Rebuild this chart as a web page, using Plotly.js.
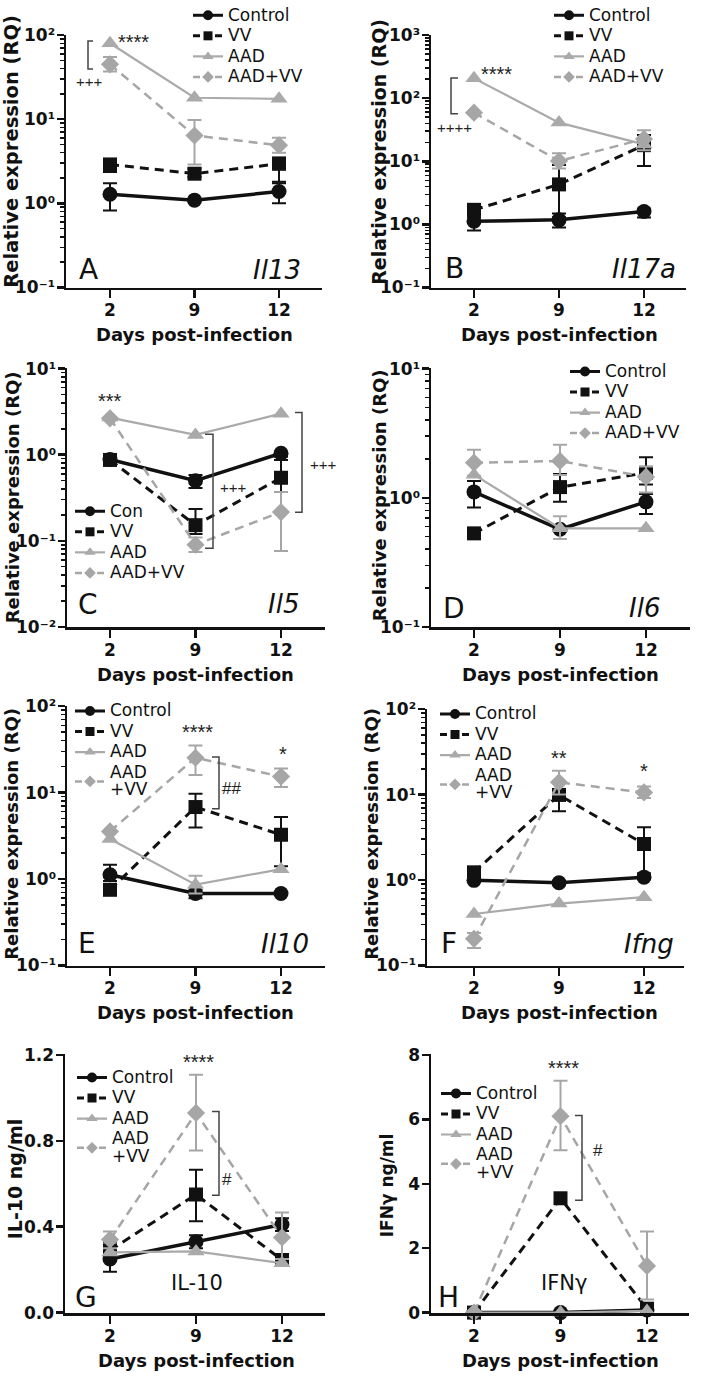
<!DOCTYPE html>
<html><head><meta charset="utf-8">
<script src="https://cdn.plot.ly/plotly-3.0.1.min.js"></script>
<style>html,body{margin:0;padding:0;background:#fff}</style>
</head><body><div id="chart" style="width:702px;height:1377px"></div>
<script>
// ---------- DATA ----------
const days = ['2', '9', '12'];
const groups = ['Control', 'VV', 'AAD', 'AAD+VV'];

// A: Il13 (RQ)
const il13_control = [1.28, 1.09, 1.38], il13_control_up = [1.73, null, 1.73], il13_control_lo = [0.82, null, 1.0];
const il13_vv = [2.9, 2.25, 2.95], il13_vv_up = [3.3, 2.6, 3.5], il13_vv_lo = [2.35, 2.05, 1.8];
const il13_aad = [80, 18, 17.5];
const il13_aadvv = [45, 6.4, 4.9], il13_aadvv_up = [55, 9.8, 6.0], il13_aadvv_lo = [37, 2.9, 4.0];

// B: Il17a (RQ)
const il17a_control = [1.12, 1.18, 1.6], il17a_control_up = [1.3, 1.48, 1.78], il17a_control_lo = [0.8, 0.89, 1.28];
const il17a_vv = [1.7, 4.3, 18], il17a_vv_up = [null, 8.7, 26], il17a_vv_lo = [null, 1.3, 8.4];
const il17a_aad = [206, 41, 18.5];
const il17a_aadvv = [59, 10.1, 22.6], il17a_aadvv_up = [null, 13.4, 31], il17a_aadvv_lo = [null, 7.7, 15];

// C: Il5 (RQ)
const il5_control = [0.88, 0.5, 1.04], il5_control_up = [null, 0.58, null], il5_control_lo = [null, 0.41, 0.87];
const il5_vv = [0.87, 0.152, 0.54], il5_vv_up = [0.95, 0.235, 0.95], il5_vv_lo = [0.78, 0.12, 0.37];
const il5_aad = [2.7, 1.7, 3.0];
const il5_aadvv = [2.65, 0.09, 0.216], il5_aadvv_up = [null, 0.109, 0.37], il5_aadvv_lo = [null, 0.074, 0.076];

// D: Il6 (RQ)
const il6_control = [1.11, 0.57, 0.93], il6_control_up = [1.35, null, 1.07], il6_control_lo = [0.84, null, 0.75];
const il6_vv = [0.53, 1.21, 1.56], il6_vv_up = [null, 1.53, 2.06], il6_vv_lo = [null, 0.93, 1.27];
const il6_aad = [1.51, 0.58, 0.58], il6_aad_up = [null, 0.72, null], il6_aad_lo = [null, 0.48, null];
const il6_aadvv = [1.87, 1.93, 1.45], il6_aadvv_up = [2.36, 2.58, 1.75], il6_aadvv_lo = [1.48, 1.5, 1.1];

// E: Il10 (RQ)
const il10_control = [1.12, 0.68, 0.68], il10_control_up = [1.46, 0.75, null], il10_control_lo = [0.95, 0.6, null];
const il10_vv = [0.75, 6.8, 3.25], il10_vv_up = [null, 9.7, 5.2], il10_vv_lo = [null, 3.95, 1.4];
const il10_aad = [2.9, 0.86, 1.3], il10_aad_up = [null, 1.09, null], il10_aad_lo = [null, 0.68, null];
const il10_aadvv = [3.55, 25.3, 15.3], il10_aadvv_up = [null, 35, 19], il10_aadvv_lo = [null, 16, 11.6];

// F: Ifng (RQ)
const ifng_control = [0.99, 0.93, 1.08];
const ifng_vv = [1.23, 9.9, 2.64], ifng_vv_up = [null, null, 4.14], ifng_vv_lo = [null, 6.4, 1.2];
const ifng_aad = [0.40, 0.53, 0.63];
const ifng_aadvv = [0.205, 13.9, 10.6], ifng_aadvv_up = [0.24, 19, 12.4], ifng_aadvv_lo = [0.16, 10, 9.1];

// G: IL-10 protein (ng/ml)
const il10p_control = [0.25, 0.33, 0.41], il10p_control_up = [0.29, 0.36, 0.44], il10p_control_lo = [0.19, 0.30, 0.38];
const il10p_vv = [0.29, 0.55, 0.245], il10p_vv_up = [0.33, 0.665, null], il10p_vv_lo = [0.26, 0.425, null];
const il10p_aad = [0.28, 0.285, 0.23];
const il10p_aadvv = [0.34, 0.93, 0.35], il10p_aadvv_up = [0.378, 1.108, 0.466], il10p_aadvv_lo = [0.30, 0.755, 0.25];

// H: IFNγ protein (ng/ml)
const ifngp_control = [0, 0, 0.08];
const ifngp_vv = [0, 3.55, 0.12];
const ifngp_aad = [0, 0, 0.05];
const ifngp_aadvv = [0, 6.1, 1.45], ifngp_aadvv_up = [null, 7.2, 2.52], ifngp_aadvv_lo = [null, 5.04, 0.41];

// ---------- STYLE / LAYOUT ----------
const W = 702, H = 1377;
const px = x => x / W;
const py = y => 1 - y / H;
const styles = [
  {color: '#111111', symbol: 'circle', size: 15, lsize: 10, width: 3.5, dash: 'solid'},
  {color: '#111111', symbol: 'square', size: 14, lsize: 9, width: 3, dash: '9px,6px'},
  {color: '#aaaaaa', symbol: 'triangle-up', size: 15, lsize: 10, width: 2.2, dash: 'solid'},
  {color: '#a6a6a6', symbol: 'diamond', size: 14, lsize: 9, width: 2.5, dash: '9px,6px'}
];
const leg = s => s.split('<br>').map(t => '<span style="font-size:17px">' + t + '</span>').join('<br>');
const namesStd = groups.map(leg);
const namesCon = ['Con', 'VV', 'AAD', 'AAD+VV'].map(leg);
const namesTwo = ['Control', 'VV', 'AAD', 'AAD<br>+VV'].map(leg);
const SUP = {'0': '⁰', '1': '¹', '2': '²', '3': '³', '-': '⁻'};
const pow10Label = k => '10' + String(k).split('').map(c => SUP[c]).join('');

const panels = [
  {series: [[il13_control, il13_control_up, il13_control_lo], [il13_vv, il13_vv_up, il13_vv_lo], [il13_aad], [il13_aadvv, il13_aadvv_up, il13_aadvv_lo]],
   names: namesStd, x0: 66, x1: 322, y0: 33, y1: 286, p0: 110, p2: 279, type: 'log', range: [-1, 2],
   ytitle: {text: 'Relative expression (RQ)', x: 12, y: 150, size: 19.5}, letter: ['A', 88, 268], gene: ['<i>Il13</i>', 277, 268], legend: [188, 13]},
  {series: [[il17a_control, il17a_control_up, il17a_control_lo], [il17a_vv, il17a_vv_up, il17a_vv_lo], [il17a_aad], [il17a_aadvv, il17a_aadvv_up, il17a_aadvv_lo]],
   names: namesStd, x0: 431, x1: 686, y0: 33, y1: 286, p0: 474, p2: 644, type: 'log', range: [-1, 3],
   ytitle: {text: 'Relative expression (RQ)', x: 379, y: 150, size: 19}, letter: ['B', 454, 267], gene: ['<i>Il17a</i>', 644, 267], legend: [549, 13]},
  {series: [[il5_control, il5_control_up, il5_control_lo], [il5_vv, il5_vv_up, il5_vv_lo], [il5_aad], [il5_aadvv, il5_aadvv_up, il5_aadvv_lo]],
   names: namesCon, x0: 67, x1: 325, y0: 367, y1: 626, p0: 110, p2: 281, type: 'log', range: [-2, 1],
   ytitle: {text: 'Relative expression (RQ)', x: 12, y: 496, size: 18}, letter: ['C', 88, 603], gene: ['<i>Il5</i>', 283, 603], legend: [70, 510]},
  {series: [[il6_control, il6_control_up, il6_control_lo], [il6_vv, il6_vv_up, il6_vv_lo], [il6_aad, il6_aad_up, il6_aad_lo], [il6_aadvv, il6_aadvv_up, il6_aadvv_lo]],
   names: namesStd, x0: 431, x1: 690, y0: 367, y1: 626, p0: 474, p2: 646, type: 'log', range: [-1, 1],
   ytitle: {text: 'Relative expression (RQ)', x: 379, y: 494, size: 18}, letter: ['D', 454, 607], gene: ['<i>Il6</i>', 644, 607], legend: [565, 370]},
  {series: [[il10_control, il10_control_up, il10_control_lo], [il10_vv, il10_vv_up, il10_vv_lo], [il10_aad, il10_aad_up, il10_aad_lo], [il10_aadvv, il10_aadvv_up, il10_aadvv_lo]],
   names: namesTwo, x0: 67, x1: 325, y0: 705, y1: 965, p0: 110, p2: 281, type: 'log', range: [-1, 2],
   ytitle: {text: 'Relative expression (RQ)', x: 12, y: 833, size: 18}, letter: ['E', 87, 943], gene: ['<i>Il10</i>', 285, 943], legend: [70, 710]},
  {series: [[ifng_control], [ifng_vv, ifng_vv_up, ifng_vv_lo], [ifng_aad], [ifng_aadvv, ifng_aadvv_up, ifng_aadvv_lo]],
   names: namesTwo, x0: 427, x1: 684, y0: 708, y1: 965, p0: 474, p2: 644, type: 'log', range: [-1, 2],
   ytitle: {text: 'Relative expression (RQ)', x: 372, y: 833, size: 18}, letter: ['F', 449, 943], gene: ['<i>Ifng</i>', 649, 943], legend: [435, 713]},
  {series: [[il10p_control, il10p_control_up, il10p_control_lo], [il10p_vv, il10p_vv_up, il10p_vv_lo], [il10p_aad], [il10p_aadvv, il10p_aadvv_up, il10p_aadvv_lo]],
   names: namesTwo, x0: 65, x1: 325, y0: 1054, y1: 1313, p0: 110, p2: 282, type: 'linear', range: [0, 1.2], dtick: 0.4, fmt: '.1f',
   ytitle: {text: 'IL-10 ng/ml', x: 15, y: 1179, size: 19}, letter: ['G', 86, 1297], gene: ['IL-10', 197, 1283], legend: [72, 1077]},
  {series: [[ifngp_control], [ifngp_vv], [ifngp_aad], [ifngp_aadvv, ifngp_aadvv_up, ifngp_aadvv_lo]],
   names: namesTwo, x0: 431, x1: 689, y0: 1054, y1: 1313, p0: 474, p2: 647, type: 'linear', range: [0, 8], dtick: 2, fmt: 'd',
   ytitle: {text: 'IFNγ ng/ml', x: 387, y: 1185, size: 17}, letter: ['H', 448, 1297], gene: ['IFNγ', 564, 1283], legend: [436, 1093]}
];

// significance marks (pixel positions)
const marks = [
  ['****', 133, 40, 20], ['+++', 90, 80, 15],
  ['****', 496, 72, 20], ['++++', 454, 126, 15],
  ['***', 110, 400, 20], ['+++', 233, 486, 15], ['+++', 323, 463, 15],
  ['****', 197, 731, 20], ['*', 283, 753, 20], ['##', 232, 788, 17],
  ['**', 559, 757, 20], ['*', 644, 770, 20],
  ['****', 198, 1062, 20], ['#', 227, 1179, 17],
  ['****', 563, 1068, 20], ['#', 598, 1150, 17]
];
// brackets: [tickX, lineX, yTop, yBottom]
const brackets = [
  [93, 88, 39, 67], [458, 451, 76, 112],
  [205, 213, 433, 547], [295, 302, 411, 511],
  [212, 219, 756, 808], [212, 219, 1111, 1195], [575, 582, 1115, 1200]
];

const data = [];
const layout = {
  width: W, height: H, margin: {l: 0, r: 0, t: 0, b: 0},
  paper_bgcolor: '#ffffff', plot_bgcolor: 'rgba(0,0,0,0)',
  font: {family: 'DejaVu Sans', color: '#111'},
  showlegend: true, annotations: [], shapes: []
};
const tickFont = {family: 'DejaVu Sans', size: 17, weight: 'bold', color: '#111'};

panels.forEach((p, i) => {
  const n = i + 1;
  const sfx = n === 1 ? '' : String(n);
  const s = (p.p2 - p.p0) / 2;
  layout['xaxis' + sfx] = {
    domain: [px(p.x0), px(p.x1)], anchor: 'y' + sfx, type: 'category',
    categoryorder: 'array', categoryarray: days,
    range: [-(p.p0 - p.x0) / s, (p.x1 - p.p0) / s],
    showline: true, linewidth: 2.5, linecolor: '#111', ticks: 'outside', ticklen: 8, tickwidth: 2.5, tickcolor: '#111',
    ticklabelstandoff: -2,
    tickfont: tickFont, showgrid: false, zeroline: false, fixedrange: true
  };
  const ya = {
    domain: [py(p.y1), py(p.y0)], anchor: 'x' + sfx, type: p.type,
    showline: true, linewidth: 2.5, linecolor: '#111', ticks: 'outside', ticklen: 7, tickwidth: 2.5, tickcolor: '#111',
    ticklabelstandoff: -2,
    tickfont: tickFont, showgrid: false, zeroline: false, fixedrange: true
  };
  if (p.type === 'log') {
    const vals = [], txt = [];
    for (let k = p.range[0]; k <= p.range[1]; k++) { vals.push(Math.pow(10, k)); txt.push(pow10Label(k)); }
    ya.range = [p.range[0] - 0.002, p.range[1] + 0.002];
    ya.tickmode = 'array'; ya.tickvals = vals; ya.ticktext = txt;
    ya.minor = {ticks: 'outside', ticklen: 4, tickwidth: 1.5, tickcolor: '#111', dtick: 'D1'};
  } else {
    ya.range = [p.range[0] - 0.002 * p.range[1], p.range[1] * 1.002];
    ya.dtick = p.dtick; ya.tick0 = 0; ya.tickformat = p.fmt;
  }
  layout['yaxis' + sfx] = ya;

  const legKey = 'legend' + sfx;
  layout[legKey] = {
    x: px(p.legend[0]), y: py(p.legend[1] - 15.3), xanchor: 'left', yanchor: 'top',
    bgcolor: 'rgba(0,0,0,0)', borderwidth: 0, itemwidth: 30, tracegroupgap: 0,
    font: {family: 'DejaVu Sans', size: 13.5, color: '#111'}, itemclick: false, itemdoubleclick: false
  };

  p.series.forEach((ser, j) => {
    const st = styles[j];
    const v = ser[0], up = ser[1], lo = ser[2];
    const tr = {
      type: 'scatter', mode: 'lines+markers', x: days, y: v,
      xaxis: 'x' + sfx, yaxis: 'y' + sfx, name: p.names[j], showlegend: false,
      line: {color: st.color, width: st.width, dash: st.dash},
      marker: {symbol: st.symbol, size: st.size, color: st.color, line: {width: 0}},
      cliponaxis: false, hoverinfo: 'skip'
    };
    if (up || lo) {
      tr.error_y = {
        type: 'data', symmetric: false, visible: true,
        array: v.map((y, k) => (up && up[k] != null) ? up[k] - y : NaN),
        arrayminus: v.map((y, k) => (lo && lo[k] != null) ? y - lo[k] : NaN),
        color: st.color, thickness: 2, width: 7
      };
    }
    data.push(tr);
  });
  // legend entries (smaller symbols, no plotted points)
  p.series.forEach((ser, j) => {
    const st = styles[j];
    data.push({
      type: 'scatter', mode: 'lines+markers', x: [null], y: [null],
      xaxis: 'x' + sfx, yaxis: 'y' + sfx, name: p.names[j], legend: legKey, showlegend: true,
      line: {color: st.color, width: Math.min(st.width, 3), dash: st.dash === 'solid' ? 'solid' : '7px,4px'},
      marker: {symbol: st.symbol, size: st.lsize, color: st.color, line: {width: 0}},
      hoverinfo: 'skip'
    });
  });

  const yt = p.ytitle;
  layout.annotations.push({xref: 'paper', yref: 'paper', x: px(yt.x), y: py(yt.y), text: yt.text, textangle: -90,
    showarrow: false, xanchor: 'center', yanchor: 'middle', font: {family: 'DejaVu Sans', size: yt.size, weight: 'bold', color: '#111'}});
  layout.annotations.push({xref: 'paper', yref: 'paper', x: px((p.p0 + p.p2) / 2), y: py(p.y1 + 47), text: 'Days post-infection',
    showarrow: false, xanchor: 'center', yanchor: 'middle', font: {family: 'DejaVu Sans', size: 18, weight: 'bold', color: '#111'}});
  layout.annotations.push({xref: 'paper', yref: 'paper', x: px(p.letter[1]), y: py(p.letter[2]), text: p.letter[0],
    showarrow: false, xanchor: 'center', yanchor: 'middle', font: {family: 'DejaVu Sans', size: 28, color: '#111'}});
  layout.annotations.push({xref: 'paper', yref: 'paper', x: px(p.gene[1]), y: py(p.gene[2]), text: p.gene[0],
    showarrow: false, xanchor: 'center', yanchor: 'middle', font: {family: 'DejaVu Sans', size: i >= 6 ? 21 : 26, color: '#111'}});
});

marks.forEach(m => {
  layout.annotations.push({xref: 'paper', yref: 'paper', x: px(m[1]), y: py(m[2]), text: m[0], showarrow: false,
    xanchor: 'center', yanchor: 'middle', font: {family: 'Liberation Sans', size: m[3], color: '#222'}});
});
brackets.forEach(b => {
  layout.shapes.push({type: 'path', xref: 'paper', yref: 'paper', layer: 'above',
    path: `M${px(b[0])},${py(b[2])} L${px(b[1])},${py(b[2])} L${px(b[1])},${py(b[3])} L${px(b[0])},${py(b[3])}`,
    line: {color: '#444', width: 1.5}});
});

Plotly.newPlot('chart', data, layout, {staticPlot: true, displayModeBar: false});
</script>
</body></html>
